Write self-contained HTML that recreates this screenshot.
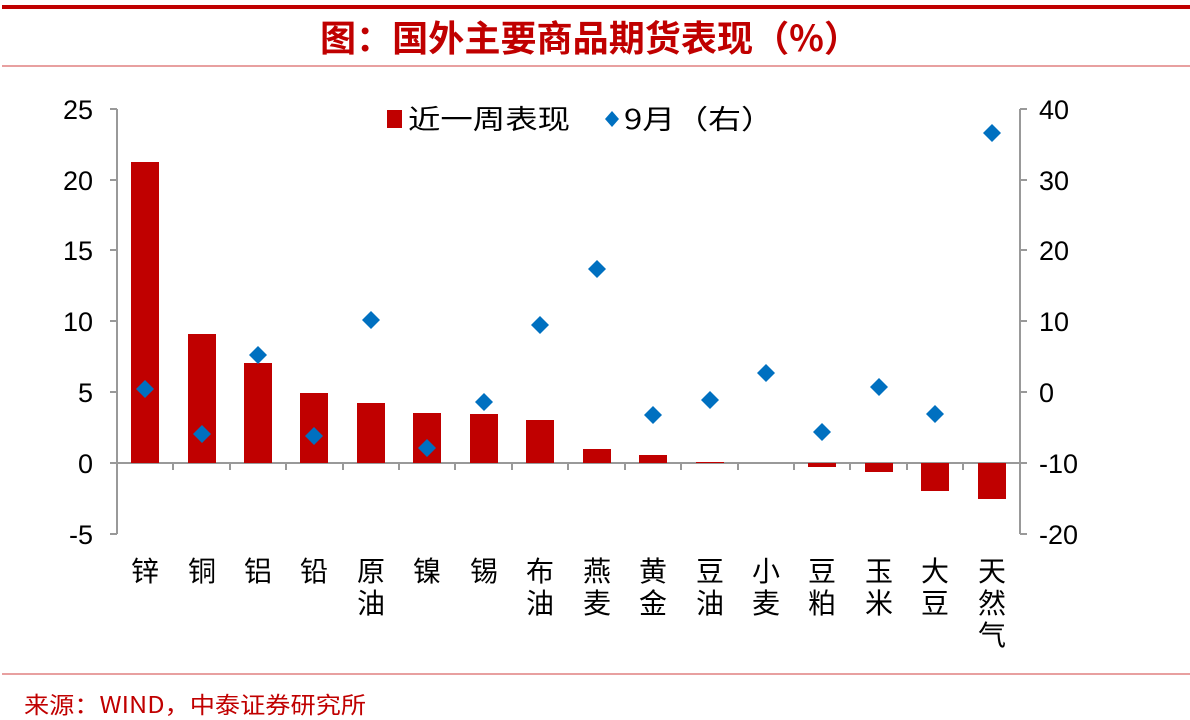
<!DOCTYPE html>
<html><head><meta charset="utf-8"><style>
html,body{margin:0;padding:0;background:#fff;}
svg{display:block;}
text{font-family:"Liberation Sans","Noto Sans CJK SC",sans-serif;}
.cj{font-family:"Noto Sans CJK SC",sans-serif;}
</style></head><body>
<svg width="1190" height="720" viewBox="0 0 1190 720" xmlns="http://www.w3.org/2000/svg">
<rect x="2" y="5" width="1188" height="4" fill="#c00000"/>
<rect x="2" y="65" width="1188" height="2" fill="#e8a0a0"/>
<text x="590" y="51" text-anchor="middle" font-size="36" font-weight="bold" fill="#c00000" class="cj" textLength="540" lengthAdjust="spacingAndGlyphs">图：国外主要商品期货表现（%）</text>
<rect x="2" y="673" width="1188" height="2" fill="#e8a0a0"/>
<text x="24" y="713" font-size="23" fill="#c00000" class="cj" textLength="342" lengthAdjust="spacingAndGlyphs">来源：WIND，中泰证券研究所</text>

<g stroke="#999" stroke-width="2" fill="none">
<line x1="117" y1="109" x2="117" y2="534"/>
<line x1="110" y1="109" x2="117" y2="109"/>
<line x1="110" y1="180" x2="117" y2="180"/>
<line x1="110" y1="250" x2="117" y2="250"/>
<line x1="110" y1="321" x2="117" y2="321"/>
<line x1="110" y1="392" x2="117" y2="392"/>
<line x1="110" y1="463" x2="117" y2="463"/>
<line x1="110" y1="534" x2="117" y2="534"/>
<line x1="1020" y1="109" x2="1020" y2="534"/>
<line x1="1020" y1="109" x2="1027" y2="109"/>
<line x1="1020" y1="180" x2="1027" y2="180"/>
<line x1="1020" y1="250" x2="1027" y2="250"/>
<line x1="1020" y1="321" x2="1027" y2="321"/>
<line x1="1020" y1="392" x2="1027" y2="392"/>
<line x1="1020" y1="463" x2="1027" y2="463"/>
<line x1="1020" y1="534" x2="1027" y2="534"/>
<line x1="117" y1="463" x2="1020" y2="463"/>
<line x1="173" y1="463" x2="173" y2="470"/><line x1="230" y1="463" x2="230" y2="470"/><line x1="286" y1="463" x2="286" y2="470"/><line x1="343" y1="463" x2="343" y2="470"/><line x1="399" y1="463" x2="399" y2="470"/><line x1="455" y1="463" x2="455" y2="470"/><line x1="512" y1="463" x2="512" y2="470"/><line x1="568" y1="463" x2="568" y2="470"/><line x1="625" y1="463" x2="625" y2="470"/><line x1="681" y1="463" x2="681" y2="470"/><line x1="738" y1="463" x2="738" y2="470"/><line x1="794" y1="463" x2="794" y2="470"/><line x1="850" y1="463" x2="850" y2="470"/><line x1="907" y1="463" x2="907" y2="470"/><line x1="963" y1="463" x2="963" y2="470"/><line x1="117" y1="463" x2="117" y2="470"/><line x1="1020" y1="463" x2="1020" y2="470"/>
</g>
<g font-size="27" fill="#000" text-anchor="end">
<text x="93" y="119">25</text><text x="93" y="190">20</text><text x="93" y="260">15</text><text x="93" y="331">10</text><text x="93" y="402">5</text><text x="93" y="473">0</text><text x="93" y="544">-5</text>
</g>
<g font-size="27" fill="#000" text-anchor="start">
<text x="1039" y="119">40</text><text x="1039" y="190">30</text><text x="1039" y="260">20</text><text x="1039" y="331">10</text><text x="1039" y="402">0</text><text x="1039" y="473">-10</text><text x="1039" y="544">-20</text>
</g>

<g fill="#c00000">
<rect x="131" y="162" width="28" height="301"/>
<rect x="188" y="334" width="28" height="129"/>
<rect x="244" y="363" width="28" height="100"/>
<rect x="300" y="393" width="28" height="70"/>
<rect x="357" y="403" width="28" height="60"/>
<rect x="413" y="413" width="28" height="50"/>
<rect x="470" y="414" width="28" height="49"/>
<rect x="526" y="420" width="28" height="43"/>
<rect x="583" y="449" width="28" height="14"/>
<rect x="639" y="455" width="28" height="8"/>
<rect x="696" y="462" width="28" height="1"/>
<rect x="808" y="463" width="28" height="4"/>
<rect x="865" y="463" width="28" height="9"/>
<rect x="921" y="463" width="28" height="28"/>
<rect x="978" y="463" width="28" height="36"/>
</g>
<g fill="#0070c0">
<path d="M145 380 l9 9 -9 9 -9 -9z"/>
<path d="M202 425 l9 9 -9 9 -9 -9z"/>
<path d="M258 346 l9 9 -9 9 -9 -9z"/>
<path d="M314 427 l9 9 -9 9 -9 -9z"/>
<path d="M371 311 l9 9 -9 9 -9 -9z"/>
<path d="M427 439 l9 9 -9 9 -9 -9z"/>
<path d="M484 393 l9 9 -9 9 -9 -9z"/>
<path d="M540 316 l9 9 -9 9 -9 -9z"/>
<path d="M597 260 l9 9 -9 9 -9 -9z"/>
<path d="M653 406 l9 9 -9 9 -9 -9z"/>
<path d="M710 391 l9 9 -9 9 -9 -9z"/>
<path d="M766 364 l9 9 -9 9 -9 -9z"/>
<path d="M822 423 l9 9 -9 9 -9 -9z"/>
<path d="M879 378 l9 9 -9 9 -9 -9z"/>
<path d="M935 405 l9 9 -9 9 -9 -9z"/>
<path d="M992 124 l9 9 -9 9 -9 -9z"/>
</g>
<rect x="387" y="110" width="15" height="18" fill="#c00000"/>
<text x="408" y="129" font-size="27" fill="#000" class="cj" textLength="162" lengthAdjust="spacingAndGlyphs">近一周表现</text>
<path d="M612 111 l7 8 -7 8 -7 -8z" fill="#0070c0"/>
<text x="624" y="129" font-size="27" fill="#000" class="cj" textLength="150" lengthAdjust="spacingAndGlyphs">9月（右）</text>

<g font-size="28" fill="#000" text-anchor="middle" class="cj">
<text x="145" y="581">锌</text>
<text x="202" y="581">铜</text>
<text x="258" y="581">铝</text>
<text x="314" y="581">铅</text>
<text x="371" y="581">原</text><text x="371" y="613">油</text>
<text x="427" y="581">镍</text>
<text x="484" y="581">锡</text>
<text x="540" y="581">布</text><text x="540" y="613">油</text>
<text x="597" y="581">燕</text><text x="597" y="613">麦</text>
<text x="653" y="581">黄</text><text x="653" y="613">金</text>
<text x="710" y="581">豆</text><text x="710" y="613">油</text>
<text x="766" y="581">小</text><text x="766" y="613">麦</text>
<text x="822" y="581">豆</text><text x="822" y="613">粕</text>
<text x="879" y="581">玉</text><text x="879" y="613">米</text>
<text x="935" y="581">大</text><text x="935" y="613">豆</text>
<text x="992" y="581">天</text><text x="992" y="613">然</text><text x="992" y="645">气</text>
</g>
</svg>
</body></html>
